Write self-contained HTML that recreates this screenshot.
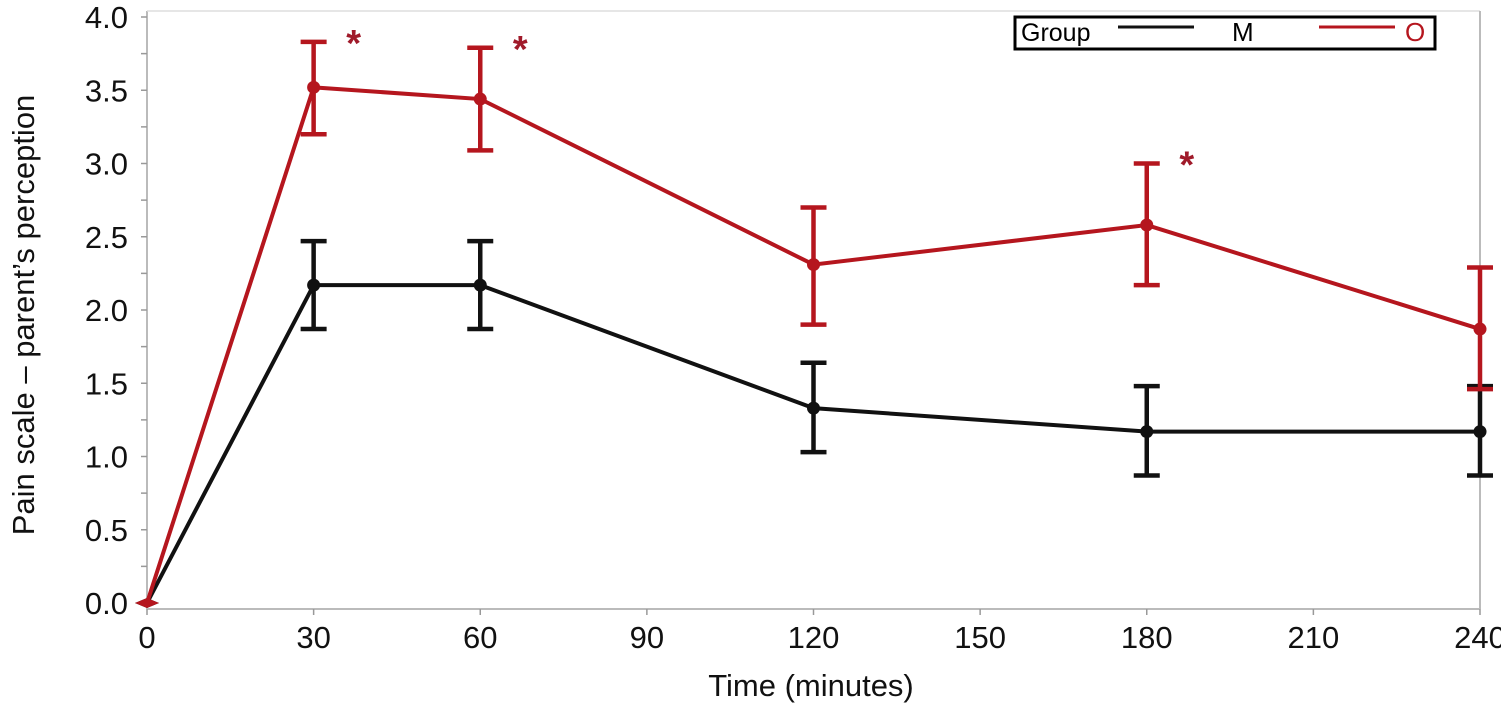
<!DOCTYPE html>
<html><head><meta charset="utf-8"><style>
body{margin:0;background:#fff;}
svg text{font-family:"Liberation Sans",Arial,sans-serif;}
</style></head><body>
<svg id="chart" width="1501" height="705" viewBox="0 0 1501 705">
<g id="frame"></g>
<g id="marks"></g>
</svg>
<script>
const times=[0,30,60,120,180,240];
const xTicks=[0,30,60,90,120,150,180,210,240];
const yTicks=[0,0.5,1,1.5,2,2.5,3,3.5,4];
const meanM=[0,2.17,2.17,1.33,1.17,1.17];
const lowM=[0,1.87,1.87,1.03,0.87,0.87];
const highM=[0,2.47,2.47,1.64,1.48,1.48];
const meanO=[0,3.52,3.44,2.31,2.58,1.87];
const lowO=[0,3.20,3.09,1.90,2.17,1.46];
const highO=[0,3.83,3.79,2.70,3.00,2.29];
const sigTimes=[30,60,180];
const sigHeights=[3.83,3.79,3.00];

const NS="http://www.w3.org/2000/svg";
const X=v=>147+(v/240)*(1480-147);
const Y=v=>603-(v/4)*(603-17);
function mk(tag,attrs,parent){const e=document.createElementNS(NS,tag);for(const k in attrs)e.setAttribute(k,attrs[k]);parent.appendChild(e);return e;}
const frame=document.getElementById('frame'),marks=document.getElementById('marks');

let e=mk('line',{x1:147,y1:11,x2:147,y2:609,stroke:'#bbb','stroke-width':2},frame);


e=mk('line',{x1:147,y1:609,x2:1480,y2:609,stroke:'#bbb','stroke-width':2},frame);


e=mk('line',{x1:147,y1:11,x2:1480,y2:11,stroke:'#ddd','stroke-width':1.5},frame);


e=mk('line',{x1:1480,y1:11,x2:1480,y2:609,stroke:'#bbb','stroke-width':2},frame);



for(let v=0;v<=4.001;v+=0.25){mk('line',{x1:141,y1:Y(v),x2:147,y2:Y(v),stroke:'#999','stroke-width':1.5},frame);}
yTicks.forEach(v=>{
 const t=mk('text',{x:128,y:Y(v)+11,'text-anchor':'end','font-size':31,fill:'#111'},frame);t.textContent=v.toFixed(1);
 
 
});
xTicks.forEach(v=>{
 mk('line',{x1:X(v),y1:609,x2:X(v),y2:615,stroke:'#999','stroke-width':1.5},frame);
 const t=mk('text',{x:X(v),y:648,'text-anchor':'middle','font-size':31,fill:'#111'},frame);t.textContent=v;
 
 
});
e=mk('text',{x:811,y:696,'text-anchor':'middle','font-size':31,fill:'#111'},frame);e.textContent='Time (minutes)';


e=mk('text',{x:0,y:0,'text-anchor':'middle','font-size':31,fill:'#111',transform:'translate(34,315) rotate(-90)'},frame);e.textContent='Pain scale – parent’s perception';



function series(mean,low,high,color,name){
 const g=mk('g',{},marks);
 
 
 const pts=times.map((t,i)=>X(t)+','+Y(mean[i])).join(' ');
 mk('polyline',{points:pts,fill:'none',stroke:color,'stroke-width':4},g);
 times.forEach((t,i)=>{
  if(t===0){mk('polygon',{points:`${X(t)-12},${Y(0)} ${X(t)},${Y(0)-5} ${X(t)+12},${Y(0)} ${X(t)},${Y(0)+5}`,fill:color},g);return;}
  const x=X(t);
  mk('line',{x1:x,y1:Y(low[i]),x2:x,y2:Y(high[i]),stroke:color,'stroke-width':4.5},g);
  mk('line',{x1:x-13,y1:Y(low[i]),x2:x+13,y2:Y(low[i]),stroke:color,'stroke-width':4.5},g);
  mk('line',{x1:x-13,y1:Y(high[i]),x2:x+13,y2:Y(high[i]),stroke:color,'stroke-width':4.5},g);
  const c=mk('circle',{cx:x,cy:Y(mean[i]),r:6.5,fill:color},g);
  
  
 });
}
series(meanM,lowM,highM,'#111','group-m');
series(meanO,lowO,highO,'#b5161e','group-o');
sigTimes.forEach((t,i)=>{
 const s=mk('text',{x:X(t)+40,y:Y(sigHeights[i])+14,'text-anchor':'middle','font-size':38,'font-weight':'bold',fill:'#a01a2a'},marks);s.textContent='*';
 
 
});

const lg=mk('g',{},frame);


mk('rect',{x:1015,y:17,width:420,height:32,fill:'#fff',stroke:'#000','stroke-width':3},lg);
e=mk('text',{x:1021,y:41,'font-size':25,fill:'#000'},lg);e.textContent='Group';
mk('line',{x1:1118,y1:27,x2:1194,y2:27,stroke:'#111','stroke-width':3},lg);
e=mk('text',{x:1232,y:41,'font-size':26,fill:'#000'},lg);e.textContent='M';


mk('line',{x1:1319,y1:27,x2:1395,y2:27,stroke:'#b5161e','stroke-width':3},lg);
e=mk('text',{x:1405,y:41,'font-size':26,fill:'#b5161e'},lg);e.textContent='O';


</script>
</body></html>
